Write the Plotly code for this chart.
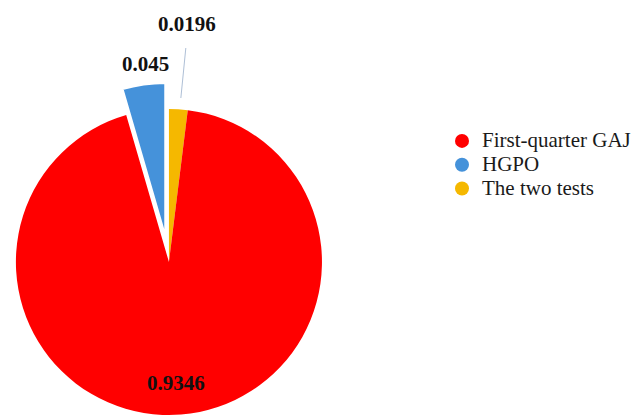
import math
import plotly.graph_objects as go

# Share of each detection approach
categories = ["First-quarter GAJ", "HGPO", "The two tests"]
shares = [0.9346, 0.045, 0.0196]
colors = ["#FF0000", "#4592DA", "#F5B800"]

# Slice order around the pie, clockwise from 12 o'clock
pie_order = [2, 0, 1]
pie_labels = [categories[i] for i in pie_order]
pie_values = [shares[i] for i in pie_order]
pie_colors = [colors[i] for i in pie_order]
pulled = "HGPO"
pull_frac = 0.17

W, H = 636, 416
cx, cy, r = 170.0, 262.0, 154.0  # pie centre / radius in pixels


def dom(x_c, y_c, rad):
    return dict(
        x=[(x_c - rad) / W, (x_c + rad) / W],
        y=[1 - (y_c + rad) / H, 1 - (y_c - rad) / H],
    )


# bisector angle of the exploded slice (clockwise from top)
start = 0.0
for lab, v in zip(pie_labels, pie_values):
    span = v / sum(pie_values) * 360.0
    if lab == pulled:
        mid = math.radians(start + span / 2)
    start += span
shift = pull_frac * r
bx, by = cx + shift * math.sin(mid), cy - shift * math.cos(mid)

transparent = "rgba(0,0,0,0)"
fig = go.Figure()

# main body of the pie (exploded slice left empty)
fig.add_trace(go.Pie(
    labels=pie_labels, values=pie_values, sort=False,
    direction="clockwise", rotation=0,
    marker=dict(colors=[c if l != pulled else transparent
                        for l, c in zip(pie_labels, pie_colors)],
                line=dict(width=0)),
    textinfo="none", hoverinfo="label+value", showlegend=False,
    domain=dom(cx, cy, r),
))

# exploded slice, offset along its bisector
fig.add_trace(go.Pie(
    labels=pie_labels, values=pie_values, sort=False,
    direction="clockwise", rotation=0,
    marker=dict(colors=[c if l == pulled else transparent
                        for l, c in zip(pie_labels, pie_colors)],
                line=dict(color=["white" if l == pulled else transparent
                                 for l in pie_labels],
                          width=[2 if l == pulled else 0 for l in pie_labels])),
    textinfo="none", hoverinfo="label+value", showlegend=False,
    domain=dom(bx, by, r),
))

# legend entries with round markers
for name, col in zip(categories, colors):
    fig.add_trace(go.Scatter(
        x=[None], y=[None], mode="markers",
        name=f'<span style="font-size:21px">{name}</span>',
        marker=dict(symbol="circle", size=14, color=col),
    ))

label_font = dict(family="Liberation Serif", size=21, color="#111111", weight="bold")
label_pos = {  # pixel anchor of each value label
    "First-quarter GAJ": (177, 383),
    "HGPO": (146, 64),
    "The two tests": (188, 24),
}
for name, v in zip(categories, shares):
    px, py = label_pos[name]
    fig.add_annotation(
        x=px / W, y=1 - py / H, xref="paper", yref="paper",
        text=str(v), showarrow=False, font=label_font,
        xanchor="center", yanchor="middle",
    )

# leader line for the smallest slice
fig.add_shape(
    type="line", xref="paper", yref="paper",
    x0=182 / W, y0=1 - 98 / H, x1=187 / W, y1=1 - 48 / H,
    line=dict(color="#AEBFD6", width=1),
)

fig.update_layout(
    width=W, height=H,
    margin=dict(l=0, r=0, t=0, b=0),
    paper_bgcolor="white", plot_bgcolor="white",
    xaxis=dict(visible=False), yaxis=dict(visible=False),
    legend=dict(
        x=445 / W, y=1 - 124 / H, xanchor="left", yanchor="top",
        font=dict(family="Liberation Serif", size=16, color="#1A1A1A"),
        bgcolor="rgba(0,0,0,0)", tracegroupgap=0,
    ),
)

fig.write_html("out.html")
